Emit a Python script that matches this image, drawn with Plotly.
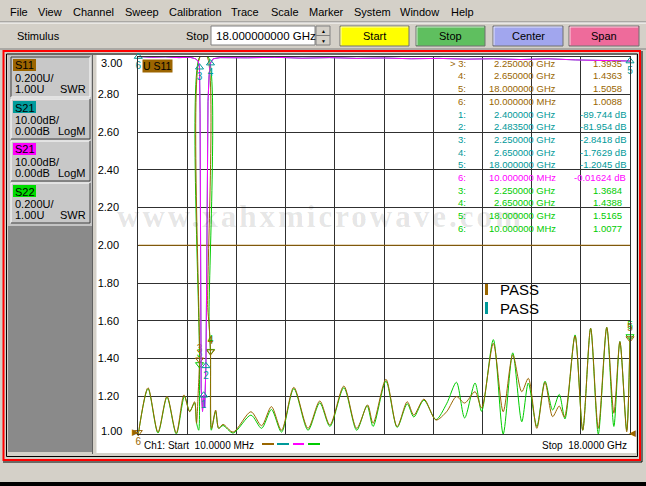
import plotly.graph_objects as go

W, H = 646, 486
FONT = "Liberation Sans, Arial, sans-serif"

BROWN = "#996600"
TEAL = "#009999"
MAGENTA = "#ff00ff"
GREEN = "#00cc00"
GRID = "#303030"

# trace data (GHz / SWR / dB)
s11_freq = [0.01, 0.366, 0.73, 1.06, 1.40, 1.68, 1.89, 2.07, 2.14, 2.20, 2.25, 2.28, 2.52, 2.55,
            2.60, 2.65, 2.69, 2.84, 2.95, 3.11, 3.48, 4.13, 4.52, 4.88, 5.25, 5.70, 6.22, 6.65,
            7.02, 7.53, 8.00, 8.40, 8.60, 9.07, 9.48, 9.85, 10.09, 10.46, 10.90, 11.29, 11.65,
            11.95, 12.33, 12.57, 13.00, 13.36, 13.71, 14.04, 14.28, 14.59, 14.89, 15.17, 15.41,
            15.60, 15.99, 16.27, 16.56, 16.84, 17.15, 17.41, 17.63, 17.88, 18.00]
s11_swr = [1.00, 1.245, 1.01, 1.20, 1.005, 1.207, 1.118, 1.171, 1.057, 1.215, 1.3935, 3.0, 3.0, 1.67,
           1.58, 1.4363, 1.03, 1.127, 1.03, 1.051, 1.01, 1.118, 1.044, 1.145, 1.02, 1.247, 1.03, 1.175,
           1.048, 1.254, 1.03, 1.154, 1.057, 1.29, 1.039, 1.171, 1.10, 1.185, 1.074, 1.118, 1.198,
           1.164, 1.224, 1.138, 1.48, 1.118, 1.419, 1.224, 1.295, 1.03, 1.274, 1.092, 1.148,
           1.09, 1.519, 1.02, 1.56, 1.03, 1.565, 1.11, 1.489, 1.012, 1.5058]

s22_freq = [0.01, 0.366, 0.73, 1.06, 1.40, 1.70, 1.89, 2.07, 2.14, 2.22, 2.25, 2.27, 2.56, 2.60,
            2.65, 2.68, 2.84, 2.95, 3.11, 3.48, 4.13, 4.52, 4.88, 5.25, 5.70, 6.22, 6.65, 7.02,
            7.53, 8.00, 8.38, 8.60, 9.07, 9.48, 9.85, 10.09, 10.46, 10.90, 11.29, 11.65, 11.95,
            12.33, 12.57, 13.00, 13.36, 13.71, 14.04, 14.28, 14.59, 14.89, 15.17, 15.41, 15.62,
            15.99, 16.27, 16.56, 16.84, 17.15, 17.41, 17.63, 17.88, 18.00]
s22_swr = [1.00, 1.24, 1.005, 1.195, 1.0, 1.20, 1.12, 1.165, 1.06, 1.02, 1.3684, 3.0, 3.0, 1.60,
           1.4388, 1.02, 1.12, 1.03, 1.045, 1.005, 1.10, 1.03, 1.13, 1.01, 1.24, 1.02, 1.165, 1.04,
           1.245, 1.02, 1.15, 1.04, 1.28, 1.035, 1.16, 1.09, 1.18, 1.076, 1.16, 1.274, 1.085,
           1.27, 1.12, 1.50, 1.00, 1.43, 1.065, 1.27, 1.04, 1.28, 1.127, 1.21, 1.08,
           1.525, 1.02, 1.56, 1.00, 1.565, 1.04, 1.49, 1.02, 1.5165]

s21_freq = [0.01, 0.5, 1.0, 1.5, 1.9, 2.10, 2.20, 2.25, 2.27, 2.29, 2.31, 2.36, 2.40, 2.44, 2.4835,
            2.51, 2.53, 2.56, 2.60, 2.65, 2.75, 3.0, 4.0, 5.0, 6.0, 7.0, 8.0, 9.0, 10.0, 11.0, 12.0,
            13.0, 14.0, 15.0, 16.0, 17.0, 18.0]
s21_db = [-0.016, -0.2, -0.1, -0.3, -0.2, -0.6, -1.2, -2.8418, -15, -55, -88, -94, -89.744, -93, -81.954,
          -60, -30, -12, -5, -1.7629, -0.6, -0.3, -0.35, -0.2, -0.45, -0.3, -0.5, -0.4, -0.6, -0.5, -0.7,
          -0.6, -0.8, -0.6, -0.9, -1.0, -1.2045]

limit_swr = 2.0
y_tick_vals = [1.0, 1.2, 1.4, 1.6, 1.8, 2.0, 2.2, 2.4, 2.6, 2.8, 3.0]

# marker readouts
s11_mk_idx = [3, 4, 5, 6]
s11_mk_freq = [2.25, 2.65, 18.0, 0.01]
s11_mk_val = [1.3935, 1.4363, 1.5058, 1.0088]
s21_mk_idx = [1, 2, 3, 4, 5]
s21_mk_freq = [2.4, 2.4835, 2.25, 2.65, 18.0]
s21_mk_db = [-89.744, -81.954, -2.8418, -1.7629, -1.2045]
s21m_mk_idx = [6]
s21m_mk_freq = [0.01]
s21m_mk_db = [-0.01624]
s22_mk_idx = [3, 4, 5, 6]
s22_mk_freq = [2.25, 2.65, 18.0, 0.01]
s22_mk_val = [1.3684, 1.4388, 1.5165, 1.0077]

menu_items = ["File", "View", "Channel", "Sweep", "Calibration", "Trace", "Scale", "Marker",
              "System", "Window", "Help"]
menu_x = [9, 37, 72, 124, 168, 230, 270, 308, 353, 399, 450]


def px(x):
    return x / W


def py(y):
    return 1 - y / H


shapes = []
annotations = []


def rect(x0, y0, x1, y1, fill, line=None, width=1):
    shapes.append(dict(type='rect', xref='paper', yref='paper', layer='below',
                       x0=px(x0), x1=px(x1), y0=py(y1), y1=py(y0), fillcolor=fill,
                       line=dict(color=line if line else fill, width=width if line else 0)))


def seg(x0, y0, x1, y1, color, width=1):
    shapes.append(dict(type='line', xref='paper', yref='paper', layer='below',
                       x0=px(x0), x1=px(x1), y0=py(y0), y1=py(y1),
                       line=dict(color=color, width=width)))


def label(x, y, text, color='black', size=10.5, xanchor='left', family=FONT, bgcolor=None):
    a = dict(xref='paper', yref='paper', x=px(x), y=py(y), text=text, showarrow=False,
             xanchor=xanchor, yanchor='middle', borderpad=0,
             font=dict(family=family, size=size, color=color))
    if bgcolor:
        a['bgcolor'] = bgcolor
    annotations.append(a)


def button(x0, y0, x1, y1, fill, text):
    rect(x0, y0, x1, y1, fill, '#707070')
    seg(x0 + 1, y0 + 1, x1 - 1, y0 + 1, 'rgba(255,255,255,0.7)')
    seg(x0 + 1, y0 + 1, x0 + 1, y1 - 1, 'rgba(255,255,255,0.7)')
    label((x0 + x1) / 2, (y0 + y1) / 2, text, size=11, xanchor='center')


# menu + toolbar
for name, x in zip(menu_items, menu_x):
    label(x, 12, name, size=11)
seg(0, 22, W, 22, '#808080')
seg(0, 23, W, 23, '#ffffff')
label(16, 36, "Stimulus", size=11)
label(185, 36, "Stop", size=11)
rect(211, 26, 315, 45, '#ffffff', '#808080')
label(215, 36, "18.000000000 GHz", size=11.5)
rect(316, 26, 330, 45, '#d4d0c8', '#808080')
seg(316, 35.5, 330, 35.5, '#808080')
label(323, 31, "▲", size=5, xanchor='center')
label(323, 40.5, "▼", size=5, xanchor='center')
button(340, 26, 409, 46, '#ffff00', "Start")
button(416, 26, 485, 46, '#5fbf5f', "Stop")
button(493, 26, 563, 46, '#a1a6ee', "Center")
button(569, 26, 639, 46, '#ee6b9b', "Span")

# frame
seg(0, 49, W, 49, '#808080')
rect(3.5, 51, 640, 460, 'rgba(0,0,0,0)', '#ff0000', 2)
rect(6.5, 54, 637.5, 456.5, '#d4d0c8', '#000000')
rect(0, 482, W, H, '#000000')
seg(642, 51, 642, 462, '#000000')
seg(3, 462, 642, 462, '#000000')

# left channel panel
rect(8, 55, 92, 452, '#8a8a8a')
rect(8, 55, 92, 226, '#c4c4c4')
seg(92.5, 55, 92.5, 454, '#606060')
rect(96.5, 55, 636, 453, '#ffffff')

channels = [
    (57, "S11", '#9c6500', "0.200U/", "1.00U", "SWR", True),
    (99, "S21", '#009c9c', "10.00dB/", "0.00dB", "LogM", False),
    (141, "S21", '#ff00ff', "10.00dB/", "0.00dB", "LogM", False),
    (183, "S22", '#00dd00', "0.200U/", "1.00U", "SWR", False),
]
for y0, name, col, l2, l3, unit, sel in channels:
    hi, lo = ('#404040', '#ffffff') if sel else ('#ffffff', '#404040')
    rect(11, y0, 90, y0 + 40, '#c8c8c8')
    seg(11, y0, 90, y0, hi)
    seg(11, y0, 11, y0 + 40, hi)
    seg(11, y0 + 40, 90, y0 + 40, lo)
    seg(90, y0, 90, y0 + 40, lo)
    rect(13, y0 + 2, 36, y0 + 14, col)
    label(14, y0 + 8.5, name, size=11)
    label(14, y0 + 21, l2, size=11)
    label(14, y0 + 32, l3, size=11)
    label(87, y0 + 32, unit, size=11, xanchor='right')

# watermark
label(320, 216, '<span style="letter-spacing:3px"><b>www.xahxmicrowave.com</b></span>',
      color='rgba(0,0,0,0.11)', size=31, xanchor='center',
      family="Liberation Serif, Times New Roman, serif")

# end tick labels sit just inside the graticule, like the analyser draws them
for v, shift in [(y_tick_vals[-1], -6.5), (y_tick_vals[0], 3)]:
    annotations.append(dict(xref='paper', yref='y', x=px(122.5), y=v, yshift=shift,
                            text="%.2f" % v, showarrow=False, xanchor='right', yanchor='middle',
                            borderpad=0, font=dict(family=FONT, size=11, color='black')))


# marker table
def fmt_freq(f):
    if f >= 1:
        return "%.6f GHz" % f
    return "%.6f MHz" % (f * 1000)


rows = []
for i, (n, f, v) in enumerate(zip(s11_mk_idx, s11_mk_freq, s11_mk_val)):
    rows.append((("> " if i == 0 else "") + "%d:" % n, fmt_freq(f), "%.5g" % v, BROWN, 623))
for n, f, v in zip(s21_mk_idx, s21_mk_freq, s21_mk_db):
    rows.append(("%d:" % n, fmt_freq(f), "%.5g dB" % v, TEAL, 627))
for n, f, v in zip(s21m_mk_idx, s21m_mk_freq, s21m_mk_db):
    rows.append(("%d:" % n, fmt_freq(f), "%.5g dB" % v, MAGENTA, 627))
for n, f, v in zip(s22_mk_idx, s22_mk_freq, s22_mk_val):
    rows.append(("%d:" % n, fmt_freq(f), "%.5g" % v, GREEN, 623))
for k, (idx, fs, vs, col, xr) in enumerate(rows):
    y = 63.3 + k * 12.7
    label(467, y, idx, col, 9.5, 'right')
    label(557, y, fs, col, 9.5, 'right')
    label(xr, y, vs, col, 9.5, 'right')

# PASS indicators
rect(485, 283, 488, 295, BROWN)
rect(485, 302, 488, 314, TEAL)
label(499, 289.5, "PASS", size=15)
label(499, 308, "PASS", size=15)

# bottom annotation line
label(143, 445, "Ch1: Start  10.0000 MHz", size=10)
label(628, 445, "Stop  18.0000 GHz", size=10, xanchor='right')
for (x0, x1), col in zip([(262, 274), (277, 289), (293, 304), (308, 320)], [BROWN, TEAL, MAGENTA, GREEN]):
    seg(x0, 444, x1, 444, col, 2)
label(142, 66, "U S11", size=10.5, bgcolor='#9c6500')
label(135, 432, "▶", BROWN, 9, 'center')
label(632, 433, "◀", BROWN, 9, 'center')

fig = go.Figure()
fig.add_trace(go.Scatter(x=s21_freq, y=s21_db, yaxis='y2', mode='lines',
                         line=dict(color=TEAL, width=1)))
fig.add_trace(go.Scatter(x=s21_freq, y=s21_db, yaxis='y2', mode='lines',
                         line=dict(color=MAGENTA, width=1)))
fig.add_trace(go.Scatter(x=[s21_freq[0], s21_freq[-1]], y=[limit_swr, limit_swr], mode='lines',
                         line=dict(color=BROWN, width=1)))
fig.add_trace(go.Scatter(x=s22_freq, y=s22_swr, mode='lines',
                         line=dict(color=GREEN, width=1, shape='spline', smoothing=0.8)))
fig.add_trace(go.Scatter(x=s11_freq, y=s11_swr, mode='lines',
                         line=dict(color=BROWN, width=1, shape='spline', smoothing=0.8)))

# marker glyphs
fig.add_trace(go.Scatter(x=s21_mk_freq + s21m_mk_freq, y=s21_mk_db + s21m_mk_db, yaxis='y2',
                         mode='markers+text', text=[str(n) for n in s21_mk_idx + s21m_mk_idx],
                         textposition='bottom center', cliponaxis=False,
                         marker=dict(symbol='triangle-up-open', size=7, color=TEAL),
                         textfont=dict(family=FONT, size=10, color=TEAL)))
fig.add_trace(go.Scatter(x=s22_mk_freq[:3], y=s22_mk_val[:3], mode='markers+text',
                         text=[str(n) for n in s22_mk_idx[:3]], textposition='top center',
                         cliponaxis=False,
                         marker=dict(symbol='triangle-down-open', size=7, color=GREEN),
                         textfont=dict(family=FONT, size=10, color=GREEN)))
fig.add_trace(go.Scatter(x=s11_mk_freq, y=s11_mk_val, mode='markers+text',
                         text=[str(n) for n in s11_mk_idx],
                         textposition=['top center', 'top center', 'top center', 'bottom center'],
                         cliponaxis=False,
                         marker=dict(symbol='triangle-down-open', size=7, color=BROWN),
                         textfont=dict(family=FONT, size=10, color=BROWN)))

fig.update_layout(
    width=W, height=H,
    margin=dict(l=0, r=0, t=0, b=0, pad=0, autoexpand=False),
    paper_bgcolor='#d4d0c8',
    plot_bgcolor='rgba(0,0,0,0)',
    showlegend=False,
    shapes=shapes,
    annotations=annotations,
    xaxis=dict(domain=[px(138.3), px(630)], range=[0.01, 18.0], tick0=0.01, dtick=1.799,
               showgrid=True, gridcolor=GRID, gridwidth=1, zeroline=False,
               showticklabels=False, showline=True, mirror=True, linecolor=GRID, linewidth=1),
    yaxis=dict(domain=[py(434), py(56.5)], range=[1.0, 3.0], tickvals=y_tick_vals[1:-1],
               tickformat='.2f', showgrid=True, gridcolor=GRID, gridwidth=1, zeroline=False,
               showline=True, mirror=True, linecolor=GRID, linewidth=1,
               ticklabelstandoff=16, tickfont=dict(family=FONT, size=11, color='black')),
    yaxis2=dict(domain=[py(434), py(56.5)], range=[-100, 0], overlaying='y', visible=False),
)

# pin the fixed-size figure to the window corner (no body margin, no scrolling)
pin = ("document.body.style.margin='0px';document.body.style.overflow='hidden';"
       "var d=document.getElementById('{plot_id}');d.style.position='fixed';"
       "d.style.top='0px';d.style.left='0px';")
fig.write_html("out.html", config={'displayModeBar': False}, post_script=pin)
